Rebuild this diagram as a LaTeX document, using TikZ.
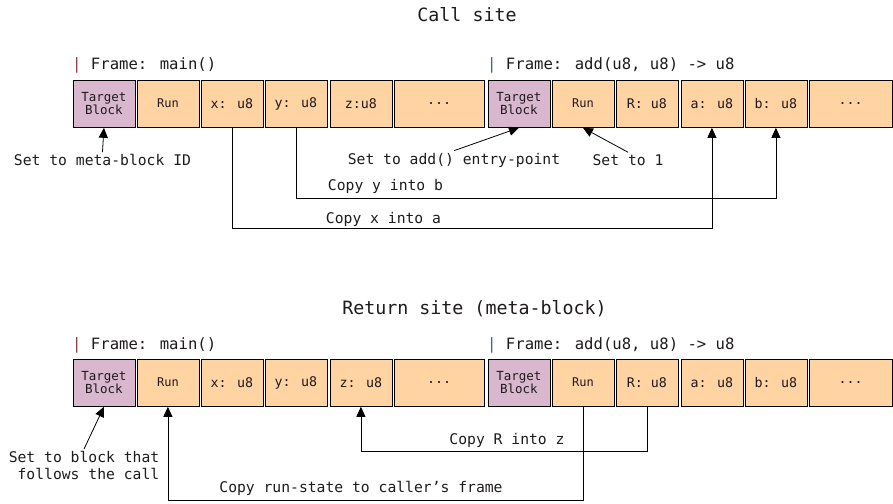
\documentclass[tikz,border=0pt]{standalone}
\usepackage{fontspec}
\setmainfont{DejaVu Sans Mono}
\usetikzlibrary{arrows.meta,calc}
\definecolor{peach}{HTML}{FFD3A2}
\definecolor{mauve}{HTML}{D9B7CE}
\definecolor{barred}{HTML}{8E3B3F}
\definecolor{barblue}{HTML}{3F5FA3}
\definecolor{ink}{HTML}{1E1A1E}
\tikzset{
  cell/.style={draw=black, line width=0.8pt, inner sep=0pt, minimum height=47.5pt, minimum width=62pt, anchor=north west, font=\fontsize{13.3}{15}\selectfont, text=ink},
  peachcell/.style={cell, fill=peach},
  tbcell/.style={cell, fill=mauve, align=center, font=\fontsize{12.5}{13}\selectfont},
  runcell/.style={peachcell, font=\fontsize{12}{13}\selectfont},
  lbl/.style={font=\fontsize{14.7}{17}\selectfont, text=ink, inner sep=2pt},
  title/.style={font=\fontsize{18.3}{20}\selectfont, text=ink},
  framelbl/.style={font=\fontsize{15.6}{18}\selectfont, text=ink, anchor=west, inner sep=0pt},
  conn/.style={draw=black, line width=0.8pt},
  arr/.style={conn, -{Triangle[length=10pt,width=9pt]}}
}
\begin{document}
\begin{tikzpicture}[x=1pt,y=-1pt]
\useasboundingbox (0,0) rectangle (893,503);
% ---------- Call site ----------
\node[title] (t1) at (467,15) {Call site};
\node[framelbl] (f1) at (72,65) {\textcolor{barred}{|} Frame: main()};
\node[framelbl] (f2) at (487,65) {\textcolor{barblue}{|} Frame: add(u8, u8) -> u8};
\node[tbcell] (tbA) at (72.5,79.5) {Target\\Block};
\node[runcell] (runA) at (136.5,79.5) {Run};
\node[peachcell] (xA) at (200.5,79.5) {x: u8};
\node[peachcell] (yA) at (264.5,79.5) {y: u8};
\node[peachcell] (zA) at (329.5,79.5) {z:u8};
\node[peachcell, minimum width=90.5pt] (dA) at (393.5,79.5) {...};
\node[tbcell] (tbB) at (487.5,79.5) {Target\\Block};
\node[runcell] (runB) at (551.5,79.5) {Run};
\node[peachcell] (rB) at (615.5,79.5) {R: u8};
\node[peachcell] (aB) at (680.5,79.5) {a: u8};
\node[peachcell] (bB) at (744.5,79.5) {b: u8};
\node[peachcell, minimum width=83.5pt] (dB) at (808.5,79.5) {...};
\node[lbl] (m1) at (102.5,160) {Set to meta-block ID};
\node[lbl] (m2) at (454,160) {Set to add() entry-point};
\node[lbl] (m3) at (628,160) {Set to 1};
\node[lbl] (cy) at (385.5,186) {Copy y into b};
\node[lbl] (cx) at (383.5,219) {Copy x into a};
\draw[arr] (m1.north) -- (tbA.south);
\draw[arr] (m2.north) -- (tbB.south);
\draw[arr] (m3.north) -- (runB.south);
\draw[arr] (yA.south) -- ++(0,71) -| (bB.south);
\draw[arr] (xA.south) -- ++(0,101) -| (aB.south);
% ---------- Return site ----------
\node[title] (t2) at (474.5,309) {Return site (meta-block)};
\node[framelbl] (g1) at (72,345) {\textcolor{barred}{|} Frame: main()};
\node[framelbl] (g2) at (487,345) {\textcolor{barblue}{|} Frame: add(u8, u8) -> u8};
\node[tbcell] (tbC) at (72.5,358.5) {Target\\Block};
\node[runcell] (runC) at (136.5,358.5) {Run};
\node[peachcell] (xC) at (200.5,358.5) {x: u8};
\node[peachcell] (yC) at (264.5,358.5) {y: u8};
\node[peachcell] (zC) at (329.5,358.5) {z: u8};
\node[peachcell, minimum width=90.5pt] (dC) at (393.5,358.5) {...};
\node[tbcell] (tbD) at (487.5,358.5) {Target\\Block};
\node[runcell] (runD) at (551.5,358.5) {Run};
\node[peachcell] (rD) at (615.5,358.5) {R: u8};
\node[peachcell] (aD) at (680.5,358.5) {a: u8};
\node[peachcell] (bD) at (744.5,358.5) {b: u8};
\node[peachcell, minimum width=83.5pt] (dD) at (808.5,358.5) {...};
\node[lbl, align=right] (n1) at (84,465.5) {Set to block that\\follows the call};
\node[lbl] (cr) at (507,440) {Copy R into z};
\node[lbl] (cs) at (361,488) {Copy run-state to caller’s frame};
\draw[arr] (n1.north) -- (tbC.south);
\draw[arr] (rD.south) -- ++(0,45) -| (zC.south);
\draw[arr] (runD.south) -- ++(0,94) -| (runC.south);
\end{tikzpicture}
\end{document}
